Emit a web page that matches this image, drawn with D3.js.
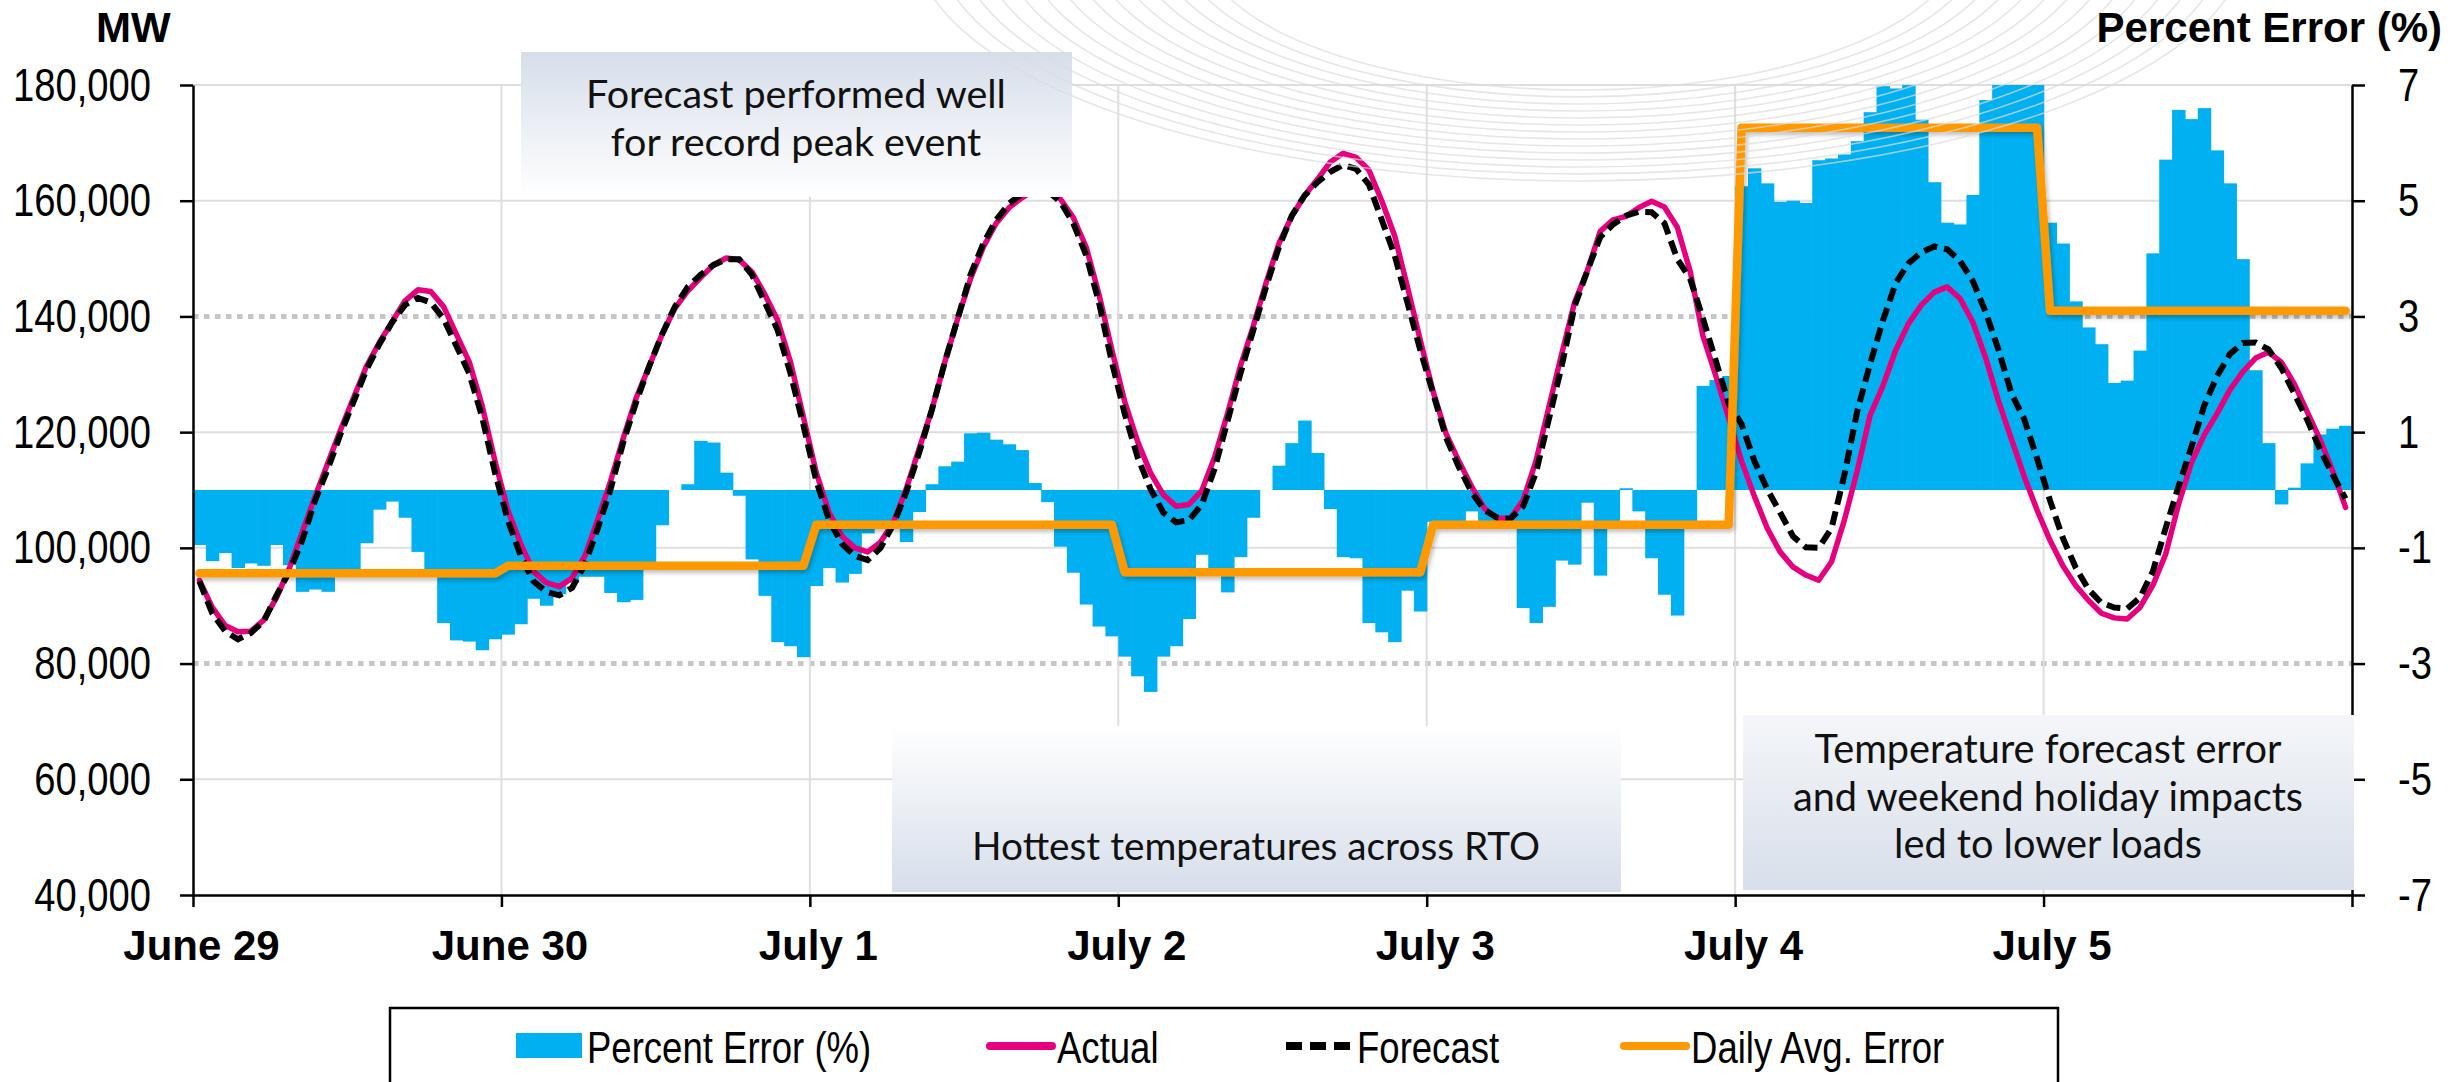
<!DOCTYPE html>
<html>
<head>
<meta charset="utf-8">
<script src="https://cdn.jsdelivr.net/npm/d3@7"></script>
<style>
  html, body { margin: 0; padding: 0; background: #fff; }
  svg { display: block; }
</style>
</head>
<body>
<svg id="chart" width="2463" height="1082"></svg>
<script>
// ---- data (hourly from June 29 00:00 to July 5 23:00) ----
var dayLabels = ["June 29", "June 30", "July 1", "July 2", "July 3", "July 4", "July 5"];
var mwTicks = [40000, 60000, 80000, 100000, 120000, 140000, 160000, 180000];
var mwDotted = [80000, 140000];
var pctTicks = [-7, -5, -3, -1, 1, 3, 5, 7];
var dailyAvgError = [-1.44, -1.31, -0.60, -1.42, -0.60, 6.26, 3.10];

var percentError = [
  -0.95, -1.23, -1.09, -1.35, -1.27, -1.31, -0.95, -1.30, -1.76, -1.72, -1.76, -1.45, -1.45, -0.92, -0.34, -0.20, -0.48, -1.07, -1.40, -2.30, -2.60, -2.62, -2.77, -2.58,
  -2.50, -2.32, -1.88, -2.00, -1.80, -1.60, -1.50, -1.50, -1.78, -1.94, -1.90, -1.30, -0.61, 0.00, 0.10, 0.85, 0.82, 0.30, -0.10, -1.20, -1.83, -2.63, -2.70, -2.89,
  -1.66, -1.35, -1.60, -1.45, -0.75, -0.60, -0.55, -0.90, -0.38, 0.10, 0.41, 0.49, 0.98, 0.99, 0.87, 0.79, 0.69, 0.12, -0.21, -0.98, -1.43, -1.98, -2.36, -2.53,
  -2.88, -3.22, -3.49, -2.88, -2.70, -2.23, -1.12, -1.45, -1.77, -1.16, -0.48, 0.00, 0.42, 0.81, 1.20, 0.64, -0.33, -1.16, -1.18, -2.30, -2.46, -2.63, -1.74, -2.10,
  -0.55, -0.60, -0.55, -0.37, -0.60, -0.60, -0.55, -2.04, -2.30, -2.02, -1.22, -1.29, -0.22, -1.48, -0.55, 0.03, -0.37, -1.18, -1.81, -2.17, -0.55, 1.80, 1.90, 1.97,
  5.25, 5.56, 5.30, 4.98, 5.00, 4.96, 5.70, 5.73, 5.80, 6.03, 6.53, 6.98, 6.94, 7.20, 6.40, 5.32, 4.62, 4.59, 5.10, 6.74, 7.30, 7.30, 7.30, 7.30,
  4.62, 4.26, 3.26, 2.81, 2.52, 1.85, 1.89, 2.41, 4.09, 5.71, 6.57, 6.41, 6.60, 5.87, 5.30, 3.99, 2.07, 0.81, -0.25, 0.04, 0.46, 0.96, 1.06, 1.11
];

var actualLoad = [
  94400, 89700, 86600, 85500, 85600, 87500, 91400, 96500, 102700, 108900, 114700, 120500, 126000, 131400, 135500, 139100, 142700, 144600, 144300, 141700, 136900, 132100, 124600, 115000,
  106500, 100700, 95900, 94000, 93300, 94800, 98600, 104900, 111600, 119100, 126000, 131400, 136900, 141400, 144400, 146700, 148900, 150100, 149800, 147700, 143800, 139300, 132100, 122600,
  113000, 106100, 102000, 100000, 99300, 101000, 104400, 110200, 117100, 123900, 132100, 139600, 146500, 152000, 156100, 158800, 160500, 161900, 161700, 160300, 157100, 152000, 143800, 134200,
  125300, 118400, 113000, 109200, 107200, 107500, 109900, 115700, 123200, 131400, 138300, 145800, 152600, 157300, 160900, 163700, 166700, 168200, 167500, 165300, 160000, 154000, 145100, 135900,
  127000, 119800, 115000, 110600, 106800, 105100, 105100, 108200, 115000, 124300, 133500, 142400, 147900, 154700, 156700, 157300, 158800, 159900, 158900, 155400, 147800, 136600, 129700, 122400,
  115000, 108900, 103400, 99300, 96700, 95300, 94400, 97600, 104800, 113300, 122900, 128000, 134200, 138800, 142000, 144200, 145100, 143100, 139000, 132800, 125300, 118800, 112300, 106500,
  101300, 96900, 93500, 90900, 88700, 87900, 87700, 89700, 93500, 98900, 107500, 114700, 119500, 123200, 127300, 130400, 132800, 133800, 132100, 128400, 123600, 118800, 113300, 107000
];

var forecastLoad = [
  94200, 88700, 85600, 84200, 85300, 87300, 91800, 95900, 101300, 108200, 113700, 119800, 125300, 130800, 135200, 139000, 142000, 143200, 142400, 139600, 134900, 130100, 122600, 113000,
  104800, 98600, 94200, 92400, 91800, 93100, 97200, 103400, 110200, 118400, 125300, 131400, 136900, 141700, 145100, 147200, 148900, 149900, 149900, 147200, 142400, 137600, 130100, 121200,
  111600, 104800, 100700, 98600, 97900, 100000, 104100, 109600, 116400, 123900, 132100, 139600, 147200, 152600, 156700, 159500, 161200, 162100, 161700, 159800, 156100, 150600, 142400, 132100,
  123200, 115700, 110200, 106100, 104400, 104800, 107500, 113700, 121900, 130100, 137600, 145100, 152000, 157400, 160900, 163200, 165000, 166200, 165500, 162800, 156700, 150600, 142400, 134200,
  126700, 119100, 114000, 109600, 106500, 105200, 105000, 107200, 113000, 122200, 131400, 141700, 147900, 153700, 155900, 157400, 158100, 158000, 156100, 149900, 146500, 139600, 132300, 124900,
  121400, 115000, 110100, 106100, 102000, 100100, 100000, 103400, 112600, 123600, 131800, 139300, 145800, 149200, 151100, 152100, 151600, 149600, 146100, 140700, 134200, 126700, 122200, 115400,
  108200, 101700, 96600, 92800, 90500, 89700, 89500, 91400, 95900, 103400, 110600, 117400, 124600, 129700, 133500, 135400, 135500, 134300, 131100, 126700, 122200, 117100, 112600, 108500
];

// ---- layout ----
var W = 2463, H = 1082;
var margin = { left: 193, right: 111, top: 85, bottom: 187 };
var plotW = W - margin.left - margin.right;
var plotH = H - margin.top - margin.bottom;
var narrow = "'Liberation Sans Narrow', 'Arial Narrow', 'Liberation Sans', sans-serif";
var boldFont = "'Liberation Sans', Arial, sans-serif";
var noteFont = "Lato, 'Open Sans', sans-serif";

var svg = d3.select("#chart");
var defs = svg.append("defs");

defs.append("clipPath").attr("id", "plotClip")
  .append("rect").attr("width", plotW).attr("height", plotH);

var shadow = defs.append("filter").attr("id", "lineShadow")
  .attr("x", "-5%").attr("y", "-5%").attr("width", "110%").attr("height", "120%");
shadow.append("feDropShadow").attr("dx", 2).attr("dy", 3).attr("stdDeviation", 2)
  .attr("flood-color", "#000").attr("flood-opacity", 0.25);

function addGradient(id, top, bottom) {
  var gr = defs.append("linearGradient").attr("id", id)
    .attr("x1", 0).attr("y1", 0).attr("x2", 0).attr("y2", 1);
  gr.append("stop").attr("offset", "0%").attr("stop-color", top);
  gr.append("stop").attr("offset", "100%").attr("stop-color", bottom);
}
addGradient("boxDown", "#d6deea", "#ffffff");
addGradient("boxUp", "#ffffff", "#d6deea");
addGradient("boxUp2", "#f4f6f9", "#d8dfea");

// the tick labels in the original are Arial Narrow; if no narrow face is installed,
// squeeze the regular face horizontally around each label's anchor
var probe = svg.append("text").attr("font-family", narrow).attr("font-size", 47).text("180,000");
var probeLen = probe.node().getComputedTextLength();
probe.remove();
var squeeze = probeLen > 150 ? 138 / probeLen : 1;
function condense(sel) {
  if (squeeze === 1) return;
  sel.each(function () {
    var t = d3.select(this);
    var x0 = +t.attr("x") || 0;
    t.attr("transform", "translate(" + (x0 * (1 - squeeze)) + ",0) scale(" + squeeze + ",1)");
  });
}

// ---- scales ----
var hours = d3.range(percentError.length);
var x = d3.scaleBand().domain(hours).range([0, plotW]).padding(0);
var xDay = d3.scaleLinear().domain([0, dayLabels.length]).range([0, plotW]);
var yMW = d3.scaleLinear().domain([40000, 180000]).range([plotH, 0]);
var yPct = d3.scaleLinear().domain([-7, 7]).range([plotH, 0]);
var bw = x.bandwidth();

var g = svg.append("g").attr("transform", "translate(" + margin.left + "," + margin.top + ")");

// ---- gridlines ----
g.append("g").attr("class", "grid-h")
  .selectAll("line").data(mwTicks.filter(function (t) { return t > 40000; }))
  .enter().append("line")
  .attr("x1", 0).attr("x2", plotW)
  .attr("y1", function (d) { return yMW(d); }).attr("y2", function (d) { return yMW(d); })
  .attr("stroke", function (d) { return mwDotted.indexOf(d) >= 0 ? "#c6c6c6" : "#dedede"; })
  .attr("stroke-width", function (d) { return mwDotted.indexOf(d) >= 0 ? 5 : 2; })
  .attr("stroke-dasharray", function (d) { return mwDotted.indexOf(d) >= 0 ? "5.5,5.5" : null; });

g.append("g").attr("class", "grid-v")
  .selectAll("line").data(d3.range(1, dayLabels.length))
  .enter().append("line")
  .attr("x1", function (d) { return xDay(d); }).attr("x2", function (d) { return xDay(d); })
  .attr("y1", 0).attr("y2", plotH)
  .attr("stroke", "#dedede").attr("stroke-width", 2);

// ---- annotation boxes (absolute page coords) ----
var notes = [
  { x: 521, y: 52, w: 551, h: 145, fill: "url(#boxDown)", cx: 796, lines: ["Forecast performed well", "for record peak event"], base: 108, fit: 420 },
  { x: 892, y: 726, w: 729, h: 166, fill: "url(#boxUp)", cx: 1256, lines: ["Hottest temperatures across RTO"], base: 860, fit: 568 },
  { x: 1743, y: 715, w: 611, h: 175, fill: "url(#boxUp2)", cx: 2048, lines: ["Temperature forecast error", "and weekend holiday impacts", "led to lower loads"], base: 763, fit: 467 }
];
var noteG = svg.append("g").attr("class", "notes");
notes.forEach(function (n) {
  noteG.append("rect").attr("x", n.x).attr("y", n.y).attr("width", n.w).attr("height", n.h).attr("fill", n.fill);
  var t = noteG.append("text").attr("text-anchor", "middle")
    .attr("font-family", noteFont).attr("font-size", 40).attr("fill", "#111");
  n.lines.forEach(function (line, i) {
    t.append("tspan").attr("x", n.cx).attr("y", n.base + i * 47.5).text(line);
  });
  // scale font so the first line matches the reference width
  var first = t.select("tspan").node();
  var len = first.getComputedTextLength();
  if (len > 0) t.attr("font-size", 40 * n.fit / len);
});

// faint background watermark arcs
var wm = svg.append("g").attr("class", "watermark").attr("fill", "none")
  .attr("stroke", "#dcdcdc").attr("stroke-width", 1.6).attr("opacity", 0.7);
d3.range(14).forEach(function (k) {
  var rx = 380 + k * 22, ry = 150 + k * 7, cx = 1580, cy = -60;
  wm.append("path").attr("d", "M" + (cx - rx) + "," + cy + " A" + rx + "," + ry + " 0 0,0 " + (cx + rx) + "," + cy);
});

// ---- bars ----
var plot = g.append("g").attr("clip-path", "url(#plotClip)");
plot.append("g").attr("class", "bars")
  .selectAll("rect").data(percentError)
  .enter().append("rect")
  .attr("x", function (d, i) { return x(i); })
  .attr("width", bw + 0.6)
  .attr("y", function (d) { return yPct(Math.max(0, d)); })
  .attr("height", function (d) { return Math.abs(yPct(d) - yPct(0)); })
  .attr("fill", "#00b0f0");

// ---- lines ----
var cx = function (d, i) { return x(i) + bw / 2; };
var lineMW = d3.line().x(cx).y(function (d) { return yMW(d); });
var linePct = d3.line().x(cx).y(function (d) { return yPct(d); });

plot.append("path").datum(actualLoad)
  .attr("d", lineMW).attr("fill", "none")
  .attr("stroke", "#e6007e").attr("stroke-width", 5.5)
  .attr("stroke-linejoin", "round").attr("stroke-linecap", "round");

plot.append("path").datum(forecastLoad)
  .attr("d", lineMW).attr("fill", "none")
  .attr("stroke", "#000").attr("stroke-width", 6)
  .attr("stroke-dasharray", "14,7");

var hourlyAvg = hours.map(function (i) { return dailyAvgError[Math.floor(i / 24)]; });
g.append("path").datum(hourlyAvg)
  .attr("d", linePct).attr("fill", "none")
  .attr("stroke", "#ff9900").attr("stroke-width", 8.5)
  .attr("stroke-linejoin", "round").attr("stroke-linecap", "round")
  .attr("filter", "url(#lineShadow)");

// ---- axes ----
function styleAxis(sel) {
  sel.select(".domain").attr("stroke", "#000").attr("stroke-width", 2.5);
  sel.selectAll(".tick line").attr("stroke", "#000").attr("stroke-width", 2.5);
}

var axL = g.append("g")
  .call(d3.axisLeft(yMW).tickValues(mwTicks).tickSize(13).tickSizeOuter(0).tickPadding(29).tickFormat(d3.format(",")));
styleAxis(axL);
axL.selectAll("text").attr("font-family", narrow).attr("font-size", 47).attr("fill", "#000").call(condense);

var axR = g.append("g").attr("transform", "translate(" + plotW + ",0)")
  .call(d3.axisRight(yPct).tickValues(pctTicks).tickSize(13).tickSizeOuter(0).tickPadding(33).tickFormat(function (d) { return String(d); }));
styleAxis(axR);
axR.selectAll("text").attr("font-family", narrow).attr("font-size", 47).attr("fill", "#000").call(condense);

var axB = g.append("g").attr("transform", "translate(0," + plotH + ")")
  .call(d3.axisBottom(xDay).tickValues(d3.range(0, dayLabels.length + 1)).tickSize(12).tickSizeOuter(0)
    .tickFormat(function (d) { return dayLabels[d] || ""; }));
styleAxis(axB);
axB.selectAll("text").attr("font-family", boldFont).attr("font-weight", "bold").attr("font-size", 42)
  .attr("fill", "#000").attr("y", 65).attr("dy", 0).attr("dx", 8);

// ---- axis titles ----
svg.append("text").attr("x", 96).attr("y", 42).text("MW")
  .attr("font-family", boldFont).attr("font-weight", "bold").attr("font-size", 42);
svg.append("text").attr("x", 2442).attr("y", 42).attr("text-anchor", "end").text("Percent Error (%)")
  .attr("font-family", boldFont).attr("font-weight", "bold").attr("font-size", 42);

// ---- legend ----
var legend = svg.append("g").attr("class", "legend");
legend.append("rect").attr("x", 390).attr("y", 1008).attr("width", 1668).attr("height", 100)
  .attr("fill", "#fff").attr("stroke", "#000").attr("stroke-width", 2.5);

var legendItems = [
  { name: "Percent Error (%)", kind: "bar", x: 516 },
  { name: "Actual", kind: "actual", x: 986 },
  { name: "Forecast", kind: "forecast", x: 1286 },
  { name: "Daily Avg. Error", kind: "avg", x: 1620 }
];
legendItems.forEach(function (it) {
  var ly = 1046;
  if (it.kind === "bar") {
    legend.append("rect").attr("x", it.x).attr("y", ly - 13).attr("width", 66).attr("height", 25).attr("fill", "#00b0f0");
  } else if (it.kind === "actual") {
    legend.append("line").attr("x1", it.x + 4).attr("x2", it.x + 66).attr("y1", ly).attr("y2", ly)
      .attr("stroke", "#e6007e").attr("stroke-width", 8).attr("stroke-linecap", "round");
  } else if (it.kind === "forecast") {
    legend.append("line").attr("x1", it.x).attr("x2", it.x + 66).attr("y1", ly).attr("y2", ly)
      .attr("stroke", "#000").attr("stroke-width", 8).attr("stroke-dasharray", "16,8");
  } else {
    legend.append("line").attr("x1", it.x + 4).attr("x2", it.x + 66).attr("y1", ly).attr("y2", ly)
      .attr("stroke", "#ff9900").attr("stroke-width", 8).attr("stroke-linecap", "round");
  }
  legend.append("text").attr("x", it.x + 71).attr("y", 1063).text(it.name)
    .attr("font-family", narrow).attr("font-size", 45).attr("fill", "#000").call(condense);
});
</script>
</body>
</html>
